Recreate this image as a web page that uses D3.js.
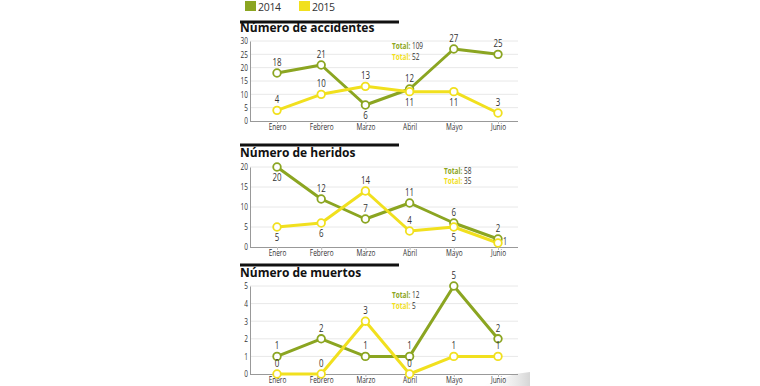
<!DOCTYPE html>
<html><head><meta charset="utf-8">
<script src="https://cdn.jsdelivr.net/npm/d3@7/dist/d3.min.js"></script>
<style>
html,body{margin:0;padding:0;background:#fff;}
svg{display:block;}
</style></head>
<body>
<svg id="chart" width="760" height="386"></svg>
<script>
const months = ["Enero","Febrero","Marzo","Abril","Mayo","Junio"];
const seriesNames = ["2014","2015"];
const titles = ["Número de accidentes","Número de heridos","Número de muertos"];

const accidentes2014 = [18,21,6,12,27,25];
const accidentes2015 = [4,10,13,11,11,3];
const heridos2014 = [20,12,7,11,6,2];
const heridos2015 = [5,6,14,4,5,1];
const muertos2014 = [1,2,1,1,5,2];
const muertos2015 = [0,0,3,0,1,1];

const accidentesTicks = [0,5,10,15,20,25,30];
const heridosTicks = [0,5,10,15,20];
const muertosTicks = [0,1,2,3,4,5];

// label placement: 1 = above point, -1 = below point, 2 = right of point
const accidentesPos2014 = [1,1,-1,1,1,1];
const accidentesPos2015 = [1,1,1,-1,-1,1];
const heridosPos2014 = [-1,1,1,1,1,1];
const heridosPos2015 = [-1,-1,1,1,-1,2];
const muertosPos2014 = [1,1,1,1,1,1];
const muertosPos2015 = [1,1,1,1,1,1];

const GREEN = "#8ba521";
const YELLOW = "#f1e01e";
const FONT = "'Open Sans',sans-serif";
const SQ = 0.72; // horizontal condensing

const svg = d3.select("#chart");

// bottom-right shading
const defs = svg.append("defs");
const grad = defs.append("linearGradient").attr("id","shade").attr("x1","0").attr("x2","1").attr("y1","0").attr("y2","0");
grad.append("stop").attr("offset","0%").attr("stop-color","#fff").attr("stop-opacity",0);
grad.append("stop").attr("offset","100%").attr("stop-color","#d6d6d6");
svg.append("path").attr("d","M480,386 L515,374 L530,372 L530,386 Z").attr("fill","url(#shade)");

function ctext(g, x, y, size, txt, anchor){
  return g.append("text").attr("transform",`translate(${x},${y}) scale(${SQ},1)`)
    .attr("text-anchor",anchor||"middle").attr("font-family",FONT).attr("font-size",size)
    .attr("fill","#333").text(txt);
}

// legend
const legend = svg.append("g");
[[GREEN,245,seriesNames[0]],[YELLOW,299,seriesNames[1]]].forEach(([c,x,t])=>{
  legend.append("rect").attr("x",x).attr("y",1).attr("width",11).attr("height",10).attr("fill",c);
  legend.append("text").attr("x",x+13).attr("y",11).attr("font-family",FONT)
    .attr("font-size",10.5).attr("letter-spacing","-0.3").attr("fill","#333").text(t);
});

const x = d3.scalePoint().domain(months).range([277,498]);

const panels = [
  {title:titles[0], a:accidentes2014, b:accidentes2015, pa:accidentesPos2014, pb:accidentesPos2015,
   ticks:accidentesTicks, y0:121, y1:41, ruleY:22, titleY:32, totY:[49,60], totX:392},
  {title:titles[1], a:heridos2014, b:heridos2015, pa:heridosPos2014, pb:heridosPos2015,
   ticks:heridosTicks, y0:247, y1:167, ruleY:145, titleY:157, totY:[174,184], totX:444},
  {title:titles[2], a:muertos2014, b:muertos2015, pa:muertosPos2014, pb:muertosPos2015,
   ticks:muertosTicks, y0:374, y1:286, ruleY:265, titleY:277, totY:[298,309], totX:392}
];

panels.forEach(p=>{
  const g = svg.append("g");
  const y = d3.scaleLinear().domain([0, d3.max(p.ticks)]).range([p.y0, p.y1]);

  g.append("line").attr("x1",240).attr("x2",399).attr("y1",p.ruleY).attr("y2",p.ruleY)
    .attr("stroke","#111").attr("stroke-width",3);
  g.append("text").attr("x",240).attr("y",p.titleY).attr("font-family",FONT)
    .attr("font-weight","bold").attr("font-size",12).attr("fill","#111").text(p.title);

  // grid
  g.selectAll(".grid").data(p.ticks.filter(t=>t>0)).enter().append("line")
    .attr("x1",250).attr("x2",518).attr("y1",d=>y(d)).attr("y2",d=>y(d))
    .attr("stroke","#e8e8e8").attr("stroke-width",1);

  // y axis
  const yAxis = d3.axisLeft(y).tickValues(p.ticks).tickFormat(d3.format("d")).tickSize(0).tickPadding(3);
  const ya = g.append("g").attr("transform","translate(250,0)").call(yAxis);
  ya.select(".domain").attr("stroke","#999");
  ya.selectAll("text").attr("font-family",FONT).attr("font-size",9).attr("fill","#333")
    .attr("transform",`scale(${SQ},1)`);

  // x axis
  const xAxis = d3.axisBottom(x).tickSize(3).tickPadding(0);
  const xa = g.append("g").attr("transform",`translate(0,${p.y0})`).call(xAxis);
  xa.select(".domain").attr("d","M250,0.5H518").attr("stroke","#999");
  xa.selectAll(".tick line").attr("stroke","#bbb");
  xa.selectAll("text").attr("font-family",FONT).attr("font-size",9).attr("fill","#333")
    .attr("transform",`scale(${SQ},1)`);

  const line = d3.line().x((d,i)=>x(months[i])).y(d=>y(d));
  [[p.a,GREEN],[p.b,YELLOW]].forEach(([vals,col])=>{
    g.append("path").datum(vals).attr("d",line).attr("fill","none")
      .attr("stroke",col).attr("stroke-width",3).attr("stroke-linejoin","round");
  });
  [[p.a,GREEN,p.pa],[p.b,YELLOW,p.pb]].forEach(([vals,col,pos])=>{
    g.selectAll(null).data(vals).enter().append("circle")
      .attr("cx",(d,i)=>x(months[i])).attr("cy",d=>y(d)).attr("r",3.8)
      .attr("fill","#fff").attr("stroke",col).attr("stroke-width",1.8);
    vals.forEach((d,i)=>{
      const px = x(months[i]), py = y(d);
      if(pos[i]===1) ctext(g, px, py-7, 11, d);
      else if(pos[i]===-1) ctext(g, px, py+14, 11, d);
      else ctext(g, px+5, py+2, 10, d, "start");
    });
  });

  // totals
  [[p.a,GREEN,p.totY[0]],[p.b,YELLOW,p.totY[1]]].forEach(([vals,col,ty])=>{
    const t = ctext(g, p.totX, ty, 9, "", "start");
    t.append("tspan").attr("fill",col).attr("font-weight","bold").text("Total: ");
    t.append("tspan").attr("fill","#333").text(d3.sum(vals));
  });
});
</script>
</body></html>
